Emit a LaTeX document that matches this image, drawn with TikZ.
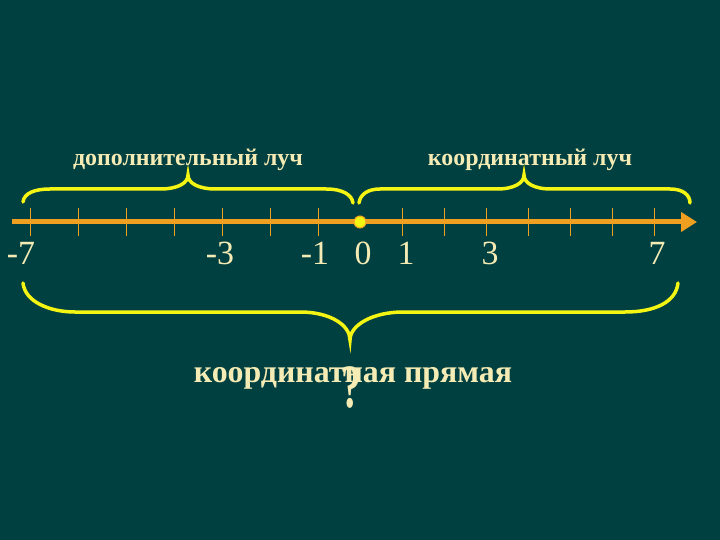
\documentclass[tikz,border=0pt]{standalone}
\usepackage{fontspec}
\setmainfont{Liberation Serif}
\usetikzlibrary{arrows.meta}
\definecolor{board}{RGB}{0,64,64}
\definecolor{chalk}{RGB}{245,235,180}
\definecolor{axiscol}{RGB}{240,160,32}
\definecolor{bracecol}{RGB}{245,245,20}

\begin{document}
\begin{tikzpicture}[x=1bp, y=-1bp,
	axis/.style={line width=5bp, axiscol, -{Triangle[length=16bp,width=19bp]}},
	tickline/.style={axiscol, line width=0.8bp},
	bracelin/.style={bracecol, line width=3.5bp, line cap=round},
	num/.style={chalk, anchor=base, inner sep=0pt, font=\fontsize{34}{40}\selectfont},
	ray/.style={chalk, anchor=base, inner sep=0pt, font=\fontsize{24}{28}\selectfont\bfseries}]
	\fill[board] (0,0) rectangle (720,540);

	\coordinate (start) at (12,222);
	\coordinate (end) at (697,222);
	\draw[axis] (start) -- (end);
	\foreach \x in {30,78,...,318} \draw[tickline] (\x,208) -- (\x,236);
	\foreach \x in {402,444,...,654} \draw[tickline] (\x,208) -- (\x,236);
	\node[circle, fill=bracecol, draw=axiscol, line width=1bp, minimum size=12bp, inner sep=0pt] (O) at (360,222) {};

	\node[num] (m7) at (21,265) {-7};
	\node[num] (m3) at (220,265) {-3};
	\node[num] (m1) at (315,265) {-1};
	\node[num] (n0) at (363,265) {0};
	\node[num] (p1) at (406,265) {1};
	\node[num] (p3) at (490,265) {3};
	\node[num] (p7) at (657,265) {7};

	\draw[bracelin] (23,202) .. controls (24,193) and (35,189) .. (50,189) -- (160,189)
		.. controls (178,189) and (188,183) .. (188,175) .. controls (188,183) and (198,189) .. (216,189)
		-- (326,189) .. controls (343,189) and (352,195) .. (353,203);
	\draw[bracelin] (359,203) .. controls (360,195) and (367,189) .. (380,189) -- (497,189)
		.. controls (514,189) and (524,183) .. (524,175) .. controls (524,183) and (534,189) .. (551,189)
		-- (670,189) .. controls (683,189) and (690,195) .. (690,203);
	\draw[bracelin] (23,283) .. controls (25,302) and (50,312) .. (75,312) -- (300,312)
		.. controls (330,312) and (350,325) .. (350,340) .. controls (350,325) and (373,312) .. (403,312)
		-- (625,312) .. controls (655,312) and (676,302) .. (678,283);

	\node[ray] (dop) at (188,166) {дополнительный луч};
	\node[ray] (koord) at (530,166) {координатный луч};
	\node[ray, font=\fontsize{32}{36}\selectfont\bfseries] (pryam) at (353,382) {координатная прямая};
	\node[chalk, anchor=base, inner sep=0pt, xscale=0.65, font=\fontsize{62}{66}\selectfont\bfseries] (q) at (352,407) {?};
\end{tikzpicture}
\end{document}
